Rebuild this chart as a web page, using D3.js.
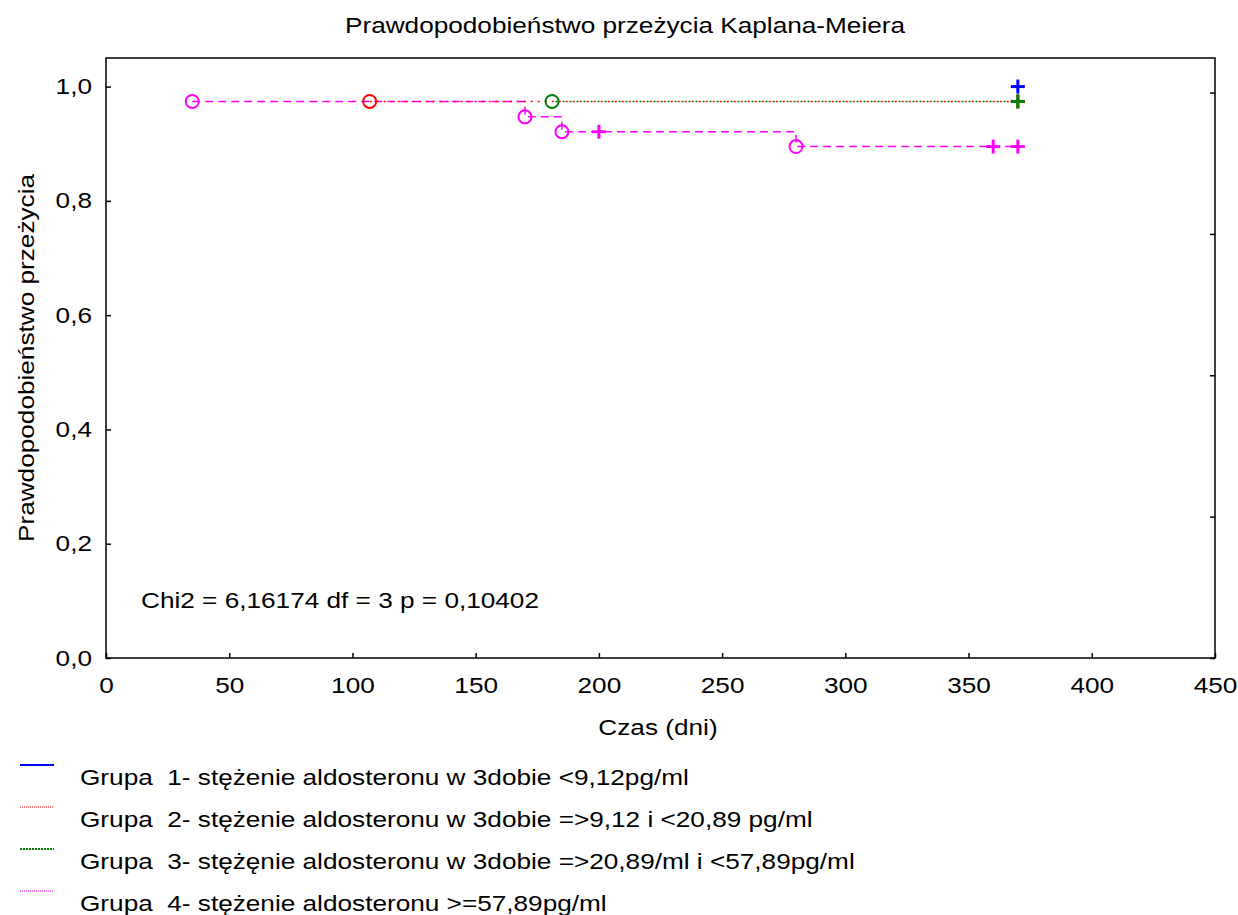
<!DOCTYPE html>
<html>
<head>
<meta charset="utf-8">
<script src="https://cdn.jsdelivr.net/npm/d3@7"></script>
<style>
  body { margin: 0; background: #fff; }
  text { font-family: "Liberation Sans", Arial, sans-serif; fill: #000; }
</style>
</head>
<body>
<div id="chart"></div>
<script>
// Kaplan-Meier data
const groupNames = [
    "Grupa  1- stężenie aldosteronu w 3dobie <9,12pg/ml",
    "Grupa  2- stężenie aldosteronu w 3dobie =>9,12 i <20,89 pg/ml",
    "Grupa  3- stężęnie aldosteronu w 3dobie =>20,89/ml i <57,89pg/ml",
    "Grupa  4- stężenie aldosteronu >=57,89pg/ml"
];
// event (death) times and survival after each event
const eventTimes = [[], [107], [181], [35, 170, 185, 280]];
const eventSurv = [[], [0.974], [0.974], [0.974, 0.947, 0.921, 0.895]];
// censored observations
const censTimes = [[370], [370], [370], [200, 360, 370]];
const censSurv = [[1.0], [0.974], [0.974], [0.921, 0.895, 0.895]];

const xTicks = [0, 50, 100, 150, 200, 250, 300, 350, 400, 450];
const yTicks = [0, 0.2, 0.4, 0.6, 0.8, 1.0];
const rightTicks = [0, 0.25, 0.5, 0.75, 1.0];

const chartTitle = "Prawdopodobieństwo przeżycia Kaplana-Meiera";
const xTitle = "Czas (dni)";
const yTitle = "Prawdopodobieństwo przeżycia";
const statText = "Chi2 = 6,16174 df = 3 p = 0,10402";

// styles
const colors = ["#0000ff", "#ff0000", "#008000", "#ff00ff"];
const dashes = [null, "2,5", "2,5", "8,5"];
const dashOffsets = [0, 0, 3.5, 0];
const legendDashes = [null, "1,1", "2,1", "1,1"];
const legendWidths = [2, 1, 2, 1];
const drawOrder = [3, 1, 2, 0];

const W = 1238, H = 915;
const m = { left: 106, top: 58, right: 23, bottom: 257 };
const pw = W - m.left - m.right;   // 1109
const ph = H - m.top - m.bottom;   // 600
const fs = 22, sx = 1.19;          // text looks horizontally stretched

const svg = d3.select("#chart").append("svg")
    .attr("width", W).attr("height", H);

const x = d3.scaleLinear().domain([0, 450]).range([m.left, m.left + pw]);
const y = d3.scaleLinear().domain([0, 1.05]).range([m.top + ph, m.top]);
const yRight = d3.scaleLinear().domain([0, 1]).range([m.top + ph, y(1.0) + 6]);

function addText(px, py, str, anchor, rot) {
    const g = svg.append("g")
        .attr("transform", `translate(${px},${py})` + (rot ? ` rotate(${rot})` : "") + ` scale(${sx},1)`);
    g.append("text")
        .attr("text-anchor", anchor || "start")
        .style("font-size", fs + "px")
        .style("white-space", "pre")
        .attr("xml:space", "preserve")
        .text(str);
    return g;
}

// frame
svg.append("rect")
    .attr("x", m.left).attr("y", m.top)
    .attr("width", pw).attr("height", ph)
    .attr("fill", "none").attr("stroke", "#000").attr("stroke-width", 1.5);

// axes with inward ticks
const fixText = function(sel, shiftX) {
    sel.selectAll(".domain").remove();
    sel.selectAll("line").attr("stroke", "#000").attr("stroke-width", 1.5);
    sel.selectAll("text")
        .style("font-size", fs + "px")
        .attr("fill", "#000")
        .attr("transform", `scale(${sx},1)`)
        .attr("x", function() { return +d3.select(this).attr("x") / sx; });
};

svg.append("g")
    .attr("transform", `translate(0,${m.top + ph})`)
    .call(d3.axisBottom(x).tickValues(xTicks).tickSize(-5).tickSizeOuter(0).tickPadding(19)
        .tickFormat(d => String(d)))
    .call(fixText);

svg.append("g")
    .attr("transform", `translate(${m.left},0)`)
    .call(d3.axisLeft(y).tickValues(yTicks).tickSize(-5).tickSizeOuter(0).tickPadding(14)
        .tickFormat(d => d.toFixed(1).replace(".", ",")))
    .call(fixText);

svg.append("g")
    .attr("transform", `translate(${m.left + pw},0)`)
    .call(d3.axisRight(yRight).tickValues(rightTicks).tickSize(-5).tickSizeOuter(0).tickFormat(""))
    .call(fixText);

// titles
addText(625, 33, chartTitle, "middle");
addText(658, 735, xTitle, "middle");
addText(34, y(0.525), yTitle, "middle", -90);
addText(141, 608, statText, "start");

// survival curves
const line = d3.line()
    .x(d => x(d[0]))
    .y(d => y(d[1]))
    .curve(d3.curveStepAfter);

drawOrder.forEach(function(i) {
    if (eventTimes[i].length === 0) return;
    const pts = eventTimes[i].map((t, j) => [t, eventSurv[i][j]]);
    const lastT = d3.max(censTimes[i]);
    pts.push([lastT, eventSurv[i][eventSurv[i].length - 1]]);
    svg.append("path")
        .datum(pts)
        .attr("d", line)
        .attr("fill", "none")
        .attr("stroke", colors[i])
        .attr("stroke-width", 1.5)
        .attr("stroke-dasharray", dashes[i])
        .attr("stroke-dashoffset", dashOffsets[i]);
});

// markers: circles = events, plus = censored
[0, 1, 2, 3].forEach(function(i) {
    svg.selectAll(null)
        .data(eventTimes[i].map((t, j) => [t, eventSurv[i][j]]))
        .enter().append("circle")
        .attr("cx", d => x(d[0]))
        .attr("cy", d => y(d[1]))
        .attr("r", 6.5)
        .attr("fill", "none")
        .attr("stroke", colors[i])
        .attr("stroke-width", 2);
});
[3, 1, 0, 2].forEach(function(i) {
    const pl = svg.selectAll(null)
        .data(censTimes[i].map((t, j) => [t, censSurv[i][j]]))
        .enter().append("g")
        .attr("transform", d => `translate(${x(d[0])},${y(d[1])})`);
    pl.append("line").attr("x1", -7).attr("x2", 7)
        .attr("stroke", colors[i]).attr("stroke-width", 3);
    pl.append("line").attr("y1", -7).attr("y2", 7)
        .attr("stroke", colors[i]).attr("stroke-width", 3);
});

// legend
groupNames.forEach(function(name, i) {
    const ly = 765 + i * 42;
    svg.append("line")
        .attr("x1", 20).attr("x2", 54)
        .attr("y1", ly).attr("y2", ly)
        .attr("stroke", colors[i])
        .attr("stroke-width", legendWidths[i])
        .attr("stroke-dasharray", legendDashes[i]);
    addText(80, ly + 20, name, "start");
});
</script>
</body>
</html>
